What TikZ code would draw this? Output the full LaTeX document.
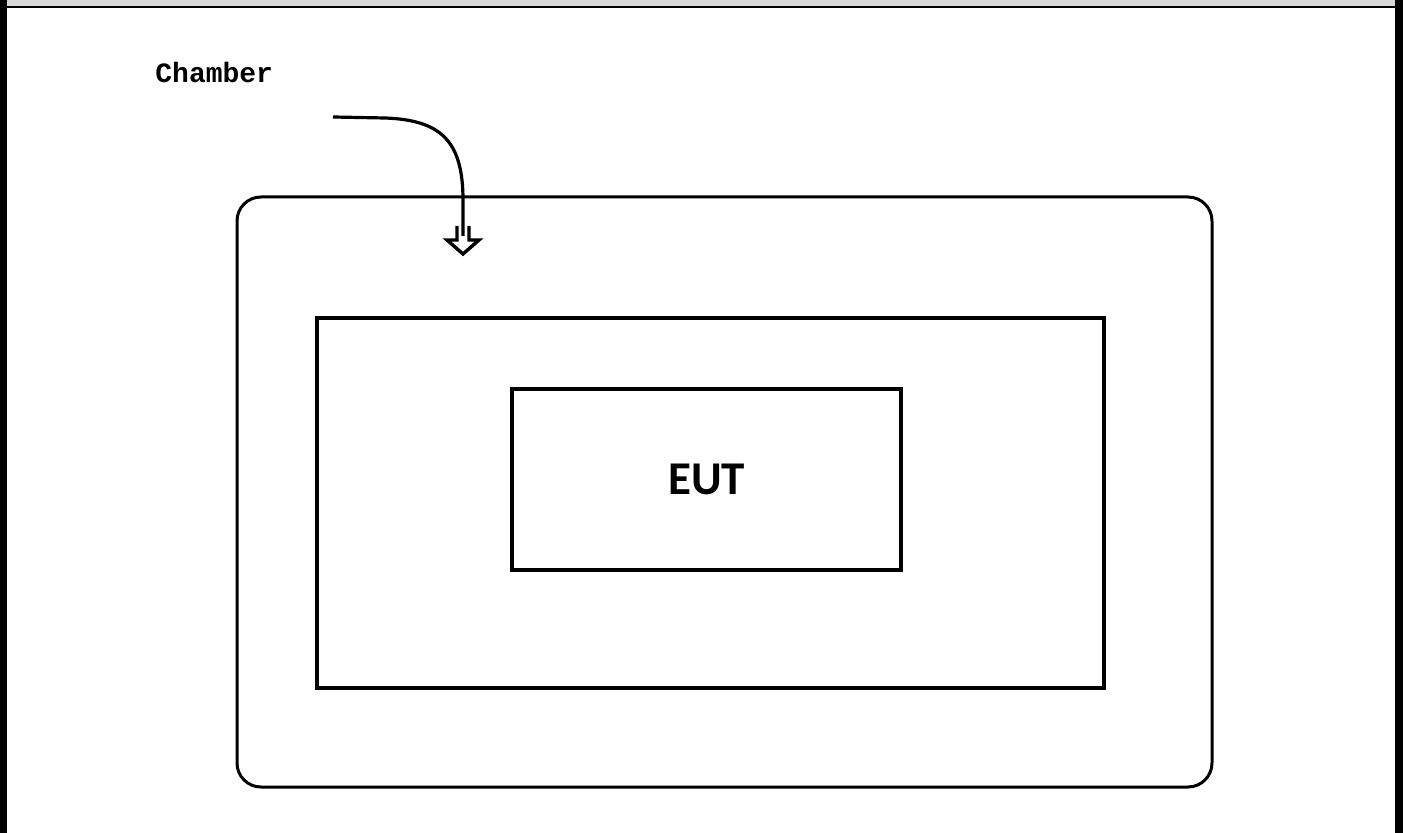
\documentclass[tikz,border=0pt]{standalone}
\usepackage{fontspec}
\newfontfamily\labelfont{Liberation Mono}
\newfontfamily\eutfont{Carlito}
\begin{document}
\begin{tikzpicture}[x=0.5pt, y=-0.5pt, box/.style={draw, line width=1.75pt, inner sep=0pt, outer sep=0pt}, flow/.style={line width=1.6pt}]
\useasboundingbox (0,0) rectangle (1403,833);
% frame
\fill[gray!30] (0,0) rectangle (1403,6);
\fill (0,6) rectangle (1403,8);
\fill (0,0) rectangle (7,833);
\fill (1395,0) rectangle (1403,833);
\node[box, line width=1.5pt, rounded corners=12pt, minimum width=487.5pt, minimum height=295pt] (chamber) at (724.5,492) {};
\node[box, minimum width=393.5pt, minimum height=185pt] (table) at (710.5,503) {};
\node[box, line width=2pt, minimum width=194.5pt, minimum height=90.5pt] (eut) at (706.5,479.5) {\eutfont\bfseries\fontsize{23.5}{28}\selectfont EUT};
\node[anchor=west, inner sep=0pt] (label) at (155,73) {\labelfont\bfseries\fontsize{14}{16}\selectfont Chamber};
% air flow
\coordinate (airin) at (333,117);
\coordinate (airout) at (463,236);
\draw[flow] (airin) -- (385,118) .. controls (440,120) and (463,140) .. (463,200) -- (airout);
\draw[line width=1.7pt, line join=miter] (457,226) -- (457,240) -- (447,240) -- (463,254) -- (479,240) -- (469,240) -- (469,226);
\end{tikzpicture}
\end{document}
